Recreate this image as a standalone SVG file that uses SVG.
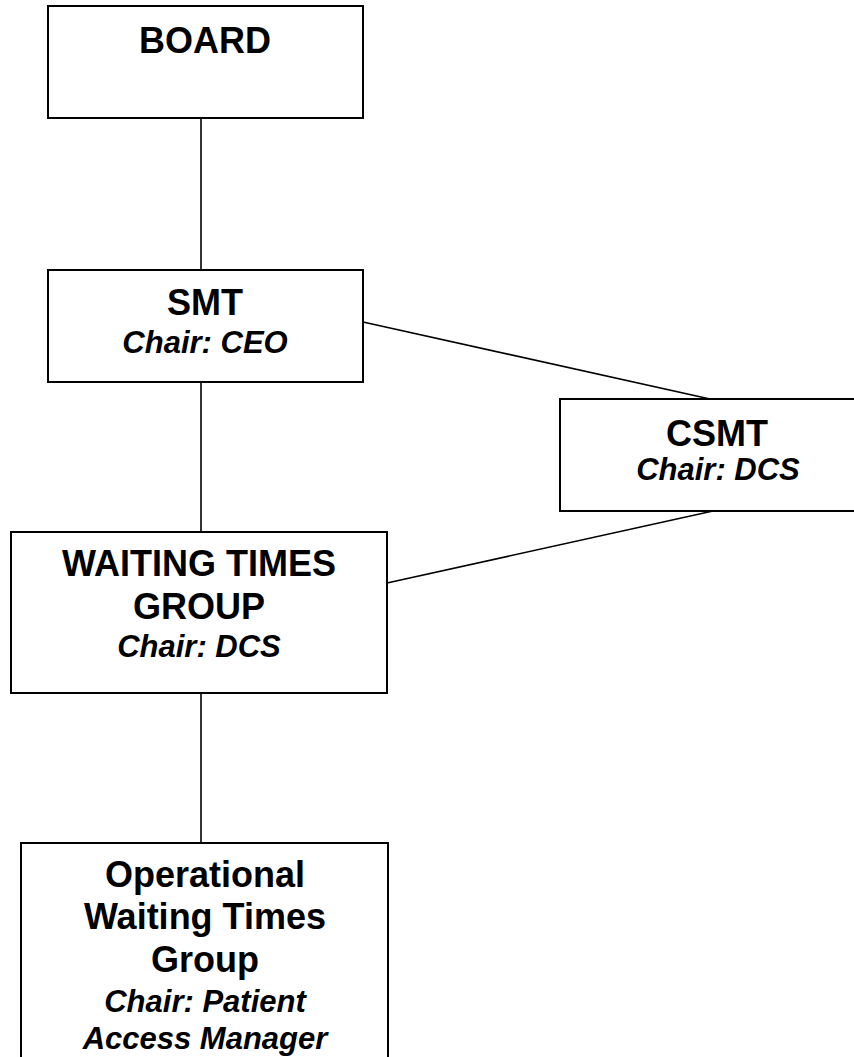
<svg xmlns="http://www.w3.org/2000/svg" width="854" height="1057" viewBox="0 0 854 1057">
<style>
.box{fill:#fff;stroke:#000;stroke-width:2}
.con{stroke:#000;stroke-width:1.6;fill:none}
.t{font-family:"Liberation Sans",Arial,sans-serif;font-weight:bold;font-size:36px;text-anchor:middle;fill:#000}
.c{font-family:"Liberation Sans",Arial,sans-serif;font-weight:bold;font-style:italic;font-size:31px;text-anchor:middle;fill:#000}
</style>
<rect width="854" height="1057" fill="#fff"/>
<g id="connectors">
<line class="con" x1="201" y1="118" x2="201" y2="270"/>
<line class="con" x1="201" y1="382" x2="201" y2="532"/>
<line class="con" x1="363" y1="322" x2="710" y2="399"/>
<line class="con" x1="387" y1="583" x2="713" y2="511"/>
<line class="con" x1="201" y1="693" x2="201" y2="843"/>
</g>
<g id="board">
<rect class="box" x="48" y="6" width="315" height="112"/>
<text class="t" x="205" y="53">BOARD</text>
</g>
<g id="smt">
<rect class="box" x="48" y="270" width="315" height="112"/>
<text class="t" x="205" y="315">SMT</text>
<text class="c" x="205" y="353">Chair: CEO</text>
</g>
<g id="csmt">
<rect class="box" x="560" y="399" width="310" height="112"/>
<text class="t" x="717" y="446">CSMT</text>
<text class="c" x="718" y="480">Chair: DCS</text>
</g>
<g id="wtg">
<rect class="box" x="11" y="532" width="376" height="161"/>
<text class="t" x="199" y="576">WAITING TIMES</text>
<text class="t" x="199" y="619">GROUP</text>
<text class="c" x="199" y="657">Chair: DCS</text>
</g>
<g id="owtg">
<rect class="box" x="21" y="843" width="367" height="230"/>
<text class="t" x="205" y="887">Operational</text>
<text class="t" x="205" y="929">Waiting Times</text>
<text class="t" x="205" y="972">Group</text>
<text class="c" x="205" y="1012">Chair: Patient</text>
<text class="c" x="205" y="1049">Access Manager</text>
</g>
</svg>
